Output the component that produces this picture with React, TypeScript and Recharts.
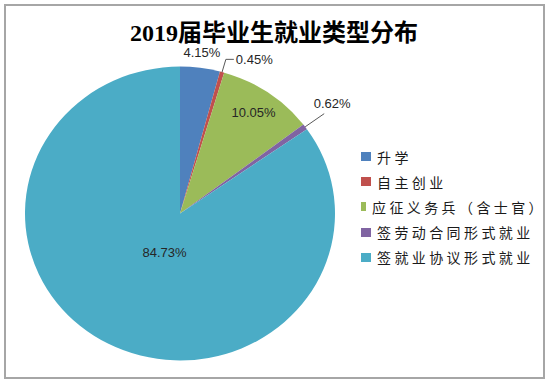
import { PieChart, Pie, Cell, Legend } from 'recharts';

const CATEGORIES = ['升学', '自主创业', '应征义务兵（含士官）', '签劳动合同形式就业', '签就业协议形式就业'];
const SHARES = [4.15, 0.45, 10.05, 0.62, 84.73];
const COLORS = ['#4F81BD', '#C0504D', '#9BBB59', '#8064A2', '#4BACC6'];

const TITLE = '2019届毕业生就业类型分布';

const CX = 180;
const CY = 213.5;
const R = 155;
const SY = 0.948; // the source pie is slightly squashed vertically
const RAD = Math.PI / 180;

// label placement per slice: r = radius factor, line = leader line, dx/dy = text offset
const LABEL_LAYOUT = [
  { r: 1.085, line: false, dx: 0, dy: -3, anchor: 'middle' },
  { r: 1.09, line: true, elbow: 8, dx: 10, dy: 0, anchor: 'start' },
  { r: 0.83, line: false, dx: -5, dy: -4, anchor: 'middle', aOff: 3 },
  { r: 1.152, line: true, elbow: 0, dx: 8, dy: -10, anchor: 'middle' },
  { r: 0.285, line: false, dx: 0, dy: 0, anchor: 'middle', aOff: -7 },
];

const data = CATEGORIES.map((name, i) => ({ name, value: SHARES[i] }));

function renderLabel(props: any) {
  const { cx, cy, midAngle, outerRadius, index, value } = props;
  const L: any = LABEL_LAYOUT[index];
  const pt = (r: number, a: number) => [
    cx + r * Math.cos(-a * RAD),
    cy + r * Math.sin(-a * RAD) * SY,
  ];
  const a = midAngle - (L.aOff ?? 0);
  const text = `${Number(value).toFixed(2)}%`;
  const textProps = {
    textAnchor: L.anchor,
    dominantBaseline: 'central',
    fontSize: 13,
    fontFamily: "'Liberation Sans', Arial, sans-serif",
    fill: '#262626',
  };
  if (L.line) {
    const [sx, sy] = pt(outerRadius, midAngle);
    const [ex, ey] = pt(outerRadius * L.r, midAngle);
    return (
      <g>
        <path
          d={`M${sx},${sy} L${ex},${ey} h${L.elbow}`}
          stroke="#595959"
          strokeWidth={1}
          fill="none"
        />
        <text x={ex + L.dx} y={ey + L.dy} {...textProps}>
          {text}
        </text>
      </g>
    );
  }
  const [x, y] = pt(outerRadius * L.r, a);
  return (
    <text x={x + L.dx} y={y + L.dy} {...textProps}>
      {text}
    </text>
  );
}

function LegendContent() {
  return (
    <div style={{ display: 'flex', flexDirection: 'column' }}>
      {CATEGORIES.map((name, i) => (
        <div key={name} style={{ display: 'flex', alignItems: 'center', height: 25.2 }}>
          <span
            style={{
              display: 'inline-block',
              width: 10,
              height: 9,
              background: COLORS[i],
              marginRight: 6,
            }}
          />
          <span
            style={{
              fontSize: 14,
              letterSpacing: 3.4,
              color: '#1a1a1a',
              fontFamily: "'Noto Sans CJK SC', sans-serif",
              whiteSpace: 'nowrap',
            }}
          >
            {name}
          </span>
        </div>
      ))}
    </div>
  );
}

export default function App() {
  return (
    <div style={{ position: 'absolute', left: 0, top: 0, width: 550, height: 384, background: '#fff' }}>
      <div
        style={{
          position: 'absolute',
          left: 4,
          top: 4,
          width: 537,
          height: 371,
          border: '2px solid #A6A6A6',
        }}
      />
      <div
        style={{
          position: 'absolute',
          left: 0,
          width: 548,
          top: 18,
          textAlign: 'center',
          fontSize: 24,
          fontWeight: 'bold',
          fontFamily: "'Liberation Serif', 'Noto Sans CJK SC', serif",
          color: '#000',
          lineHeight: '30px',
        }}
      >
        {TITLE}
      </div>
      <PieChart
        width={550}
        height={384}
        margin={{ top: 0, right: 0, bottom: 0, left: 0 }}
        style={{ position: 'absolute', left: 0, top: 0 }}
      >
        <Pie
          data={data}
          dataKey="value"
          nameKey="name"
          cx={CX}
          cy={CY}
          outerRadius={R}
          startAngle={90}
          endAngle={-270}
          stroke="none"
          label={renderLabel}
          labelLine={false}
          isAnimationActive={false}
        >
          {data.map((d, i) => (
            <Cell
              key={d.name}
              fill={COLORS[i]}
              transform={`translate(0 ${CY * (1 - SY)}) scale(1 ${SY})`}
            />
          ))}
        </Pie>
        <Legend
          content={<LegendContent />}
          wrapperStyle={{ position: 'absolute', left: 361, top: 144, width: 185 }}
        />
      </PieChart>
    </div>
  );
}
